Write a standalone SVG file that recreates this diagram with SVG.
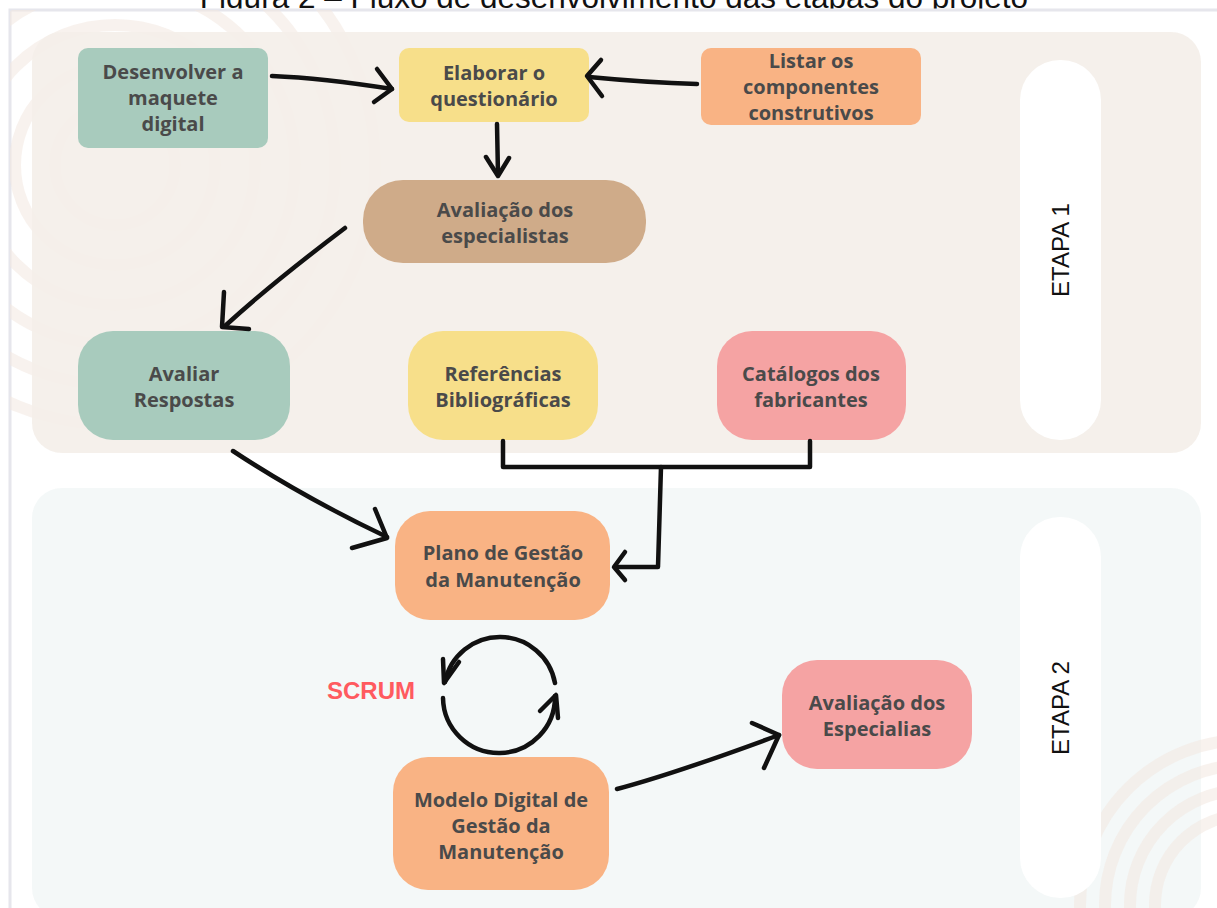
<svg xmlns="http://www.w3.org/2000/svg" width="1217" height="908" viewBox="0 0 1217 908">
  <defs>
    <style>
      .node-text { font-family: "Open Sans", "Liberation Sans", sans-serif; font-weight: 700; font-size: 20px; fill: #4a4a4a; text-anchor: middle; }
      .stage-text { font-family: "Liberation Sans", Arial, sans-serif; font-size: 24px; fill: #111; text-anchor: middle; }
      .ring { fill: none; stroke: #f3e8e0; stroke-width: 12; opacity: 0.55; }
      .conn { fill: none; stroke: #111; stroke-width: 4.5; stroke-linecap: round; stroke-linejoin: round; }
      .head { fill: none; stroke: #111; stroke-width: 4.5; stroke-linecap: round; stroke-linejoin: round; }
    </style>
    <clipPath id="frame"><rect x="10" y="10" width="1207" height="898"/></clipPath>
  </defs>

  <rect width="1217" height="908" fill="#ffffff"/>
  <text x="614" y="8" font-family="Liberation Sans, Arial, sans-serif" font-size="31.5" fill="#111" text-anchor="middle">Figura 2 – Fluxo de desenvolvimento das etapas do projeto</text>
  <rect x="10" y="10" width="1214" height="905" fill="#ffffff" stroke="#e6e6ec" stroke-width="3"/>

  <!-- decorative rings -->
  <g clip-path="url(#frame)">
    <circle class="ring" cx="115" cy="165" r="60"/>
    <circle class="ring" cx="115" cy="165" r="100"/>
    <circle class="ring" cx="115" cy="165" r="140"/>
    <circle class="ring" cx="115" cy="165" r="180"/>
    <circle class="ring" cx="115" cy="165" r="220"/>
    <circle class="ring" cx="115" cy="165" r="260"/>
  </g>

  <!-- stage panels -->
  <rect x="32" y="32" width="1169" height="421" rx="30" fill="#f4efe9" opacity="0.93"/>
  <rect x="32" y="488" width="1169" height="430" rx="30" fill="#f3f8f8" opacity="0.93"/>

  <g clip-path="url(#frame)">
    <circle class="ring" cx="1245" cy="905" r="90"/>
    <circle class="ring" cx="1245" cy="905" r="115"/>
    <circle class="ring" cx="1245" cy="905" r="140"/>
    <circle class="ring" cx="1245" cy="905" r="165"/>
  </g>

  <g id="etapa1">
    <rect x="1020" y="60" width="81" height="380" rx="40" fill="#ffffff"/>
    <text class="stage-text" transform="translate(1069 250) rotate(-90)">ETAPA 1</text>
  </g>
  <g id="etapa2">
    <rect x="1020" y="517" width="81" height="381" rx="40" fill="#ffffff"/>
    <text class="stage-text" transform="translate(1069 708) rotate(-90)">ETAPA 2</text>
  </g>

  <g id="n-maquete">
    <rect x="78" y="48" width="190" height="100" rx="10" fill="#a8cbbd"/>
    <text class="node-text" x="173" y="79">Desenvolver a</text>
    <text class="node-text" x="173" y="105">maquete</text>
    <text class="node-text" x="173" y="131">digital</text>
  </g>
  <g id="n-questionario">
    <rect x="399" y="48" width="190" height="74" rx="10" fill="#f7df8a"/>
    <text class="node-text" x="494" y="80">Elaborar o</text>
    <text class="node-text" x="494" y="106">questionário</text>
  </g>
  <g id="n-componentes">
    <rect x="701" y="48" width="220" height="77" rx="10" fill="#f9b384"/>
    <text class="node-text" x="811" y="68">Listar os</text>
    <text class="node-text" x="811" y="94">componentes</text>
    <text class="node-text" x="811" y="120">construtivos</text>
  </g>
  <g id="n-especialistas">
    <rect x="363" y="180" width="283" height="83" rx="40" fill="#cfab89"/>
    <text class="node-text" x="505" y="217">Avaliação dos</text>
    <text class="node-text" x="505" y="243">especialistas</text>
  </g>
  <g id="n-respostas">
    <rect x="78" y="331" width="212" height="109" rx="35" fill="#a8cbbd"/>
    <text class="node-text" x="184" y="381">Avaliar</text>
    <text class="node-text" x="184" y="407">Respostas</text>
  </g>
  <g id="n-referencias">
    <rect x="408" y="331" width="190" height="109" rx="35" fill="#f7df8a"/>
    <text class="node-text" x="503" y="381">Referências</text>
    <text class="node-text" x="503" y="407">Bibliográficas</text>
  </g>
  <g id="n-catalogos">
    <rect x="717" y="331" width="189" height="109" rx="35" fill="#f5a3a3"/>
    <text class="node-text" x="811" y="381">Catálogos dos</text>
    <text class="node-text" x="811" y="407">fabricantes</text>
  </g>
  <g id="n-plano">
    <rect x="395" y="511" width="215" height="109" rx="35" fill="#f9b384"/>
    <text class="node-text" x="503" y="560">Plano de Gestão</text>
    <text class="node-text" x="503" y="587">da Manutenção</text>
  </g>
  <g id="n-avaliacao2">
    <rect x="782" y="660" width="190" height="109" rx="35" fill="#f5a3a3"/>
    <text class="node-text" x="877" y="710">Avaliação dos</text>
    <text class="node-text" x="877" y="736">Especialias</text>
  </g>
  <g id="n-modelo">
    <rect x="393" y="757" width="216" height="133" rx="35" fill="#f9b384"/>
    <text class="node-text" x="501" y="807">Modelo Digital de</text>
    <text class="node-text" x="501" y="833">Gestão da</text>
    <text class="node-text" x="501" y="859">Manutenção</text>
  </g>

  <g id="scrum">
    <text x="371" y="699" font-family="Liberation Sans, Arial, sans-serif" font-weight="700" font-size="24" fill="#ff5a5f" text-anchor="middle">SCRUM</text>
  </g>

  <g id="connectors">
    <!-- maquete -> questionario -->
    <path class="conn" d="M272 76 C320 78 360 84 392 89"/>
    <path class="head" d="M377 69 L392 89 L374 102"/>
    <!-- componentes -> questionario -->
    <path class="conn" d="M697 84 C660 83 620 80 589 77"/>
    <path class="head" d="M601 60 L587 76 L602 96"/>
    <!-- questionario -> especialistas -->
    <path class="conn" d="M497 124 L498 175"/>
    <path class="head" d="M486 157 L498 176 L509 158"/>
    <!-- especialistas -> respostas -->
    <path class="conn" d="M345 228 C300 262 262 292 225 326"/>
    <path class="head" d="M224 292 L222 327 L249 329"/>
    <!-- respostas -> plano -->
    <path class="conn" d="M233 451 C280 482 330 510 387 537"/>
    <path class="head" d="M375 509 L387 538 L352 548"/>
    <!-- referencias + catalogos -> plano -->
    <path class="conn" d="M503 441 L503 467 L810 467 L810 441"/>
    <path class="conn" d="M661 467 L658 567 L616 567"/>
    <path class="head" d="M625 552 L614 567 L625 580"/>
    <!-- scrum cycle -->
    <path class="conn" d="M445 682 A56 56 0 0 1 555 683"/>
    <path class="head" d="M459 662 L444 683 L443 659"/>
    <path class="conn" d="M443 698 A56 56 0 0 0 555 696"/>
    <path class="head" d="M540 711 L556 695 L558 718"/>
    <!-- modelo -> avaliacao -->
    <path class="conn" d="M617 789 C670 775 725 755 779 735"/>
    <path class="head" d="M752 723 L779 735 L764 768"/>
  </g>
</svg>
